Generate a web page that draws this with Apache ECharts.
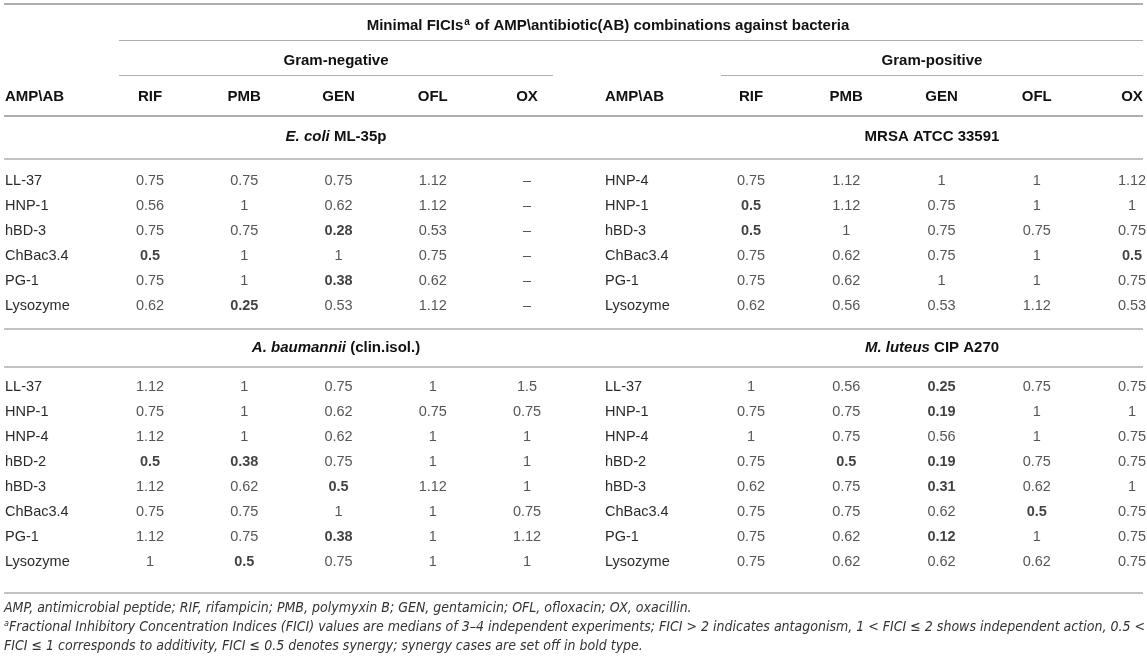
<!DOCTYPE html>
<html>
<head>
<meta charset="utf-8">
<script src="https://cdn.jsdelivr.net/npm/echarts@6/dist/echarts.min.js"></script>
<style>
html,body{margin:0;padding:0;background:#fff;}
#c{width:1147px;height:661px;}
</style>
</head>
<body>
<div id="c"></div>
<script>
// ---------- data ----------
var antibiotics = ['RIF', 'PMB', 'GEN', 'OFL', 'OX'];

var ecoliAmps = ['LL-37', 'HNP-1', 'hBD-3', 'ChBac3.4', 'PG-1', 'Lysozyme'];
var ecoliVals = [
  [0.75, 0.75, 0.75, 1.12, null],
  [0.56, 1, 0.62, 1.12, null],
  [0.75, 0.75, 0.28, 0.53, null],
  [0.5, 1, 1, 0.75, null],
  [0.75, 1, 0.38, 0.62, null],
  [0.62, 0.25, 0.53, 1.12, null]
];

var mrsaAmps = ['HNP-4', 'HNP-1', 'hBD-3', 'ChBac3.4', 'PG-1', 'Lysozyme'];
var mrsaVals = [
  [0.75, 1.12, 1, 1, 1.12],
  [0.5, 1.12, 0.75, 1, 1],
  [0.5, 1, 0.75, 0.75, 0.75],
  [0.75, 0.62, 0.75, 1, 0.5],
  [0.75, 0.62, 1, 1, 0.75],
  [0.62, 0.56, 0.53, 1.12, 0.53]
];

var abauAmps = ['LL-37', 'HNP-1', 'HNP-4', 'hBD-2', 'hBD-3', 'ChBac3.4', 'PG-1', 'Lysozyme'];
var abauVals = [
  [1.12, 1, 0.75, 1, 1.5],
  [0.75, 1, 0.62, 0.75, 0.75],
  [1.12, 1, 0.62, 1, 1],
  [0.5, 0.38, 0.75, 1, 1],
  [1.12, 0.62, 0.5, 1.12, 1],
  [0.75, 0.75, 1, 1, 0.75],
  [1.12, 0.75, 0.38, 1, 1.12],
  [1, 0.5, 0.75, 1, 1]
];

var mlutAmps = ['LL-37', 'HNP-1', 'HNP-4', 'hBD-2', 'hBD-3', 'ChBac3.4', 'PG-1', 'Lysozyme'];
var mlutVals = [
  [1, 0.56, 0.25, 0.75, 0.75],
  [0.75, 0.75, 0.19, 1, 1],
  [1, 0.75, 0.56, 1, 0.75],
  [0.75, 0.5, 0.19, 0.75, 0.75],
  [0.62, 0.75, 0.31, 0.62, 1],
  [0.75, 0.75, 0.62, 0.5, 0.75],
  [0.75, 0.62, 0.12, 1, 0.75],
  [0.75, 0.62, 0.62, 0.62, 0.75]
];

var synergyLimit = 0.5;

// ---------- styling / layout ----------
var FONT = "'Liberation Sans', Arial, Helvetica, sans-serif";
var FOOT_FONT = "'Liberation Sans Narrow', 'DejaVu Sans Condensed', 'Liberation Sans', sans-serif";
var TXT = '#2b2b2b';
var BOLD = '#111';
var RULE = '#aeaeae';

var blocks = [
  {amps: ecoliAmps, vals: ecoliVals, left: 150, width: 377, top: 181, header: true, labelMargin: 145},
  {amps: mrsaAmps, vals: mrsaVals, left: 751, width: 381, top: 181, header: true, labelMargin: 146},
  {amps: abauAmps, vals: abauVals, left: 150, width: 377, top: 387, header: false, labelMargin: 145},
  {amps: mlutAmps, vals: mlutVals, left: 751, width: 381, top: 387, header: false, labelMargin: 146}
];
var ROW_H = 25;

var grids = [], xAxes = [], yAxes = [], series = [];
blocks.forEach(function (b, i) {
  grids.push({
    left: b.left, top: b.top, width: b.width,
    height: (b.amps.length - 1) * ROW_H, containLabel: false
  });
  xAxes.push({
    type: 'category', gridIndex: i, data: antibiotics, boundaryGap: false,
    position: 'top',
    axisLine: {show: false}, axisTick: {show: false}, splitLine: {show: false},
    axisLabel: {
      show: b.header, interval: 0, margin: b.top - 97, verticalAlign: 'middle',
      fontFamily: FONT, fontSize: 15, fontWeight: 'bold', color: BOLD
    }
  });
  yAxes.push({
    type: 'category', gridIndex: i, data: b.amps, inverse: true, boundaryGap: false,
    axisLine: {show: false}, axisTick: {show: false}, splitLine: {show: false},
    axisLabel: {
      interval: 0, align: 'left', margin: b.labelMargin, verticalAlign: 'middle',
      fontFamily: FONT, fontSize: 14.5, color: TXT
    }
  });
  var data = [];
  b.vals.forEach(function (row, r) {
    row.forEach(function (v, c) {
      var syn = v !== null && v <= synergyLimit;
      data.push({
        value: [c, r, v],
        label: {fontWeight: syn ? 'bold' : 'normal', color: syn ? BOLD : TXT}
      });
    });
  });
  series.push({
    type: 'scatter', xAxisIndex: i, yAxisIndex: i, data: data,
    symbolSize: 1, itemStyle: {color: 'transparent'},
    silent: true,
    label: {
      show: true, position: 'inside', fontFamily: FONT, fontSize: 14.5,
      formatter: function (p) { return p.value[2] === null ? '\u2013' : String(p.value[2]); }
    }
  });
});

function hline(y, x1, x2, w) {
  return {type: 'line', shape: {x1: x1, y1: y, x2: x2, y2: y},
    style: {stroke: RULE, lineWidth: w || 1.5}, silent: true};
}
function txt(x, y, text, align, opts) {
  var st = {
    text: text, x: x, y: y, textAlign: align || 'center', textVerticalAlign: 'middle',
    fontFamily: FONT, fontSize: 15, fontWeight: 'bold', fill: BOLD
  };
  if (opts) for (var k in opts) st[k] = opts[k];
  return {type: 'text', silent: true, style: st};
}

var boldRich = {
  n: {fontFamily: FONT, fontSize: 15, fontWeight: 'bold', fill: BOLD},
  i: {fontFamily: FONT, fontSize: 15, fontWeight: 'bold', fontStyle: 'italic', fill: BOLD},
  s: {fontFamily: FONT, fontSize: 10, fontWeight: 'bold', fill: BOLD, padding: [0, 1, 8, 1]}
};
var footRich = {
  n: {fontFamily: FOOT_FONT, fontSize: 14, fontStyle: 'italic', fill: '#333'},
  s: {fontFamily: FOOT_FONT, fontSize: 9, fontStyle: 'italic', fill: '#333', padding: [0, 0, 6, 0]}
};

var graphics = [
  hline(4, 4, 1143, 2),
  hline(40.5, 119, 1143, 1.2),
  hline(75.5, 119, 553, 1.2),
  hline(75.5, 721, 1143, 1.2),
  hline(116, 4, 1143, 2),
  hline(159, 4, 1143, 1.5),
  hline(329, 4, 1143, 1.5),
  hline(367, 4, 1143, 1.5),
  hline(593, 4, 1143, 1.5),
  txt(608, 26, '{n|Minimal FICIs}{s|a}{n| of AMP\\antibiotic(AB) combinations against bacteria}', 'center', {rich: boldRich}),
  txt(336, 61, 'Gram-negative'),
  txt(932, 61, 'Gram-positive'),
  txt(5, 97, 'AMP\\AB', 'left'),
  txt(605, 97, 'AMP\\AB', 'left'),
  txt(336, 137, '{i|E. coli}{n| ML-35p}', 'center', {rich: boldRich}),
  txt(932, 137, '{n|MRSA ATCC 33591}', 'center', {rich: boldRich}),
  txt(336, 348, '{i|A. baumannii}{n| (clin.isol.)}', 'center', {rich: boldRich}),
  txt(932, 348, '{i|M. luteus}{n| CIP A270}', 'center', {rich: boldRich}),
  txt(4, 608, '{n|AMP, antimicrobial peptide; RIF, rifampicin; PMB, polymyxin B; GEN, gentamicin; OFL, ofloxacin; OX, oxacillin.}', 'left', {rich: footRich}),
  txt(4, 627, '{s|a}{n|Fractional Inhibitory Concentration Indices (FICI) values are medians of 3\u20134 independent experiments; FICI > 2 indicates antagonism, 1 < FICI \u2264 2 shows independent action, 0.5 <}', 'left', {rich: footRich}),
  txt(4, 646, '{n|FICI \u2264 1 corresponds to additivity, FICI \u2264 0.5 denotes synergy; synergy cases are set off in bold type.}', 'left', {rich: footRich})
];

var chart = echarts.init(document.getElementById('c'), null, {renderer: 'canvas'});
chart.setOption({
  backgroundColor: '#fff',
  animation: false,
  grid: grids,
  xAxis: xAxes,
  yAxis: yAxes,
  series: series,
  graphic: {elements: graphics}
});
</script>
</body>
</html>
